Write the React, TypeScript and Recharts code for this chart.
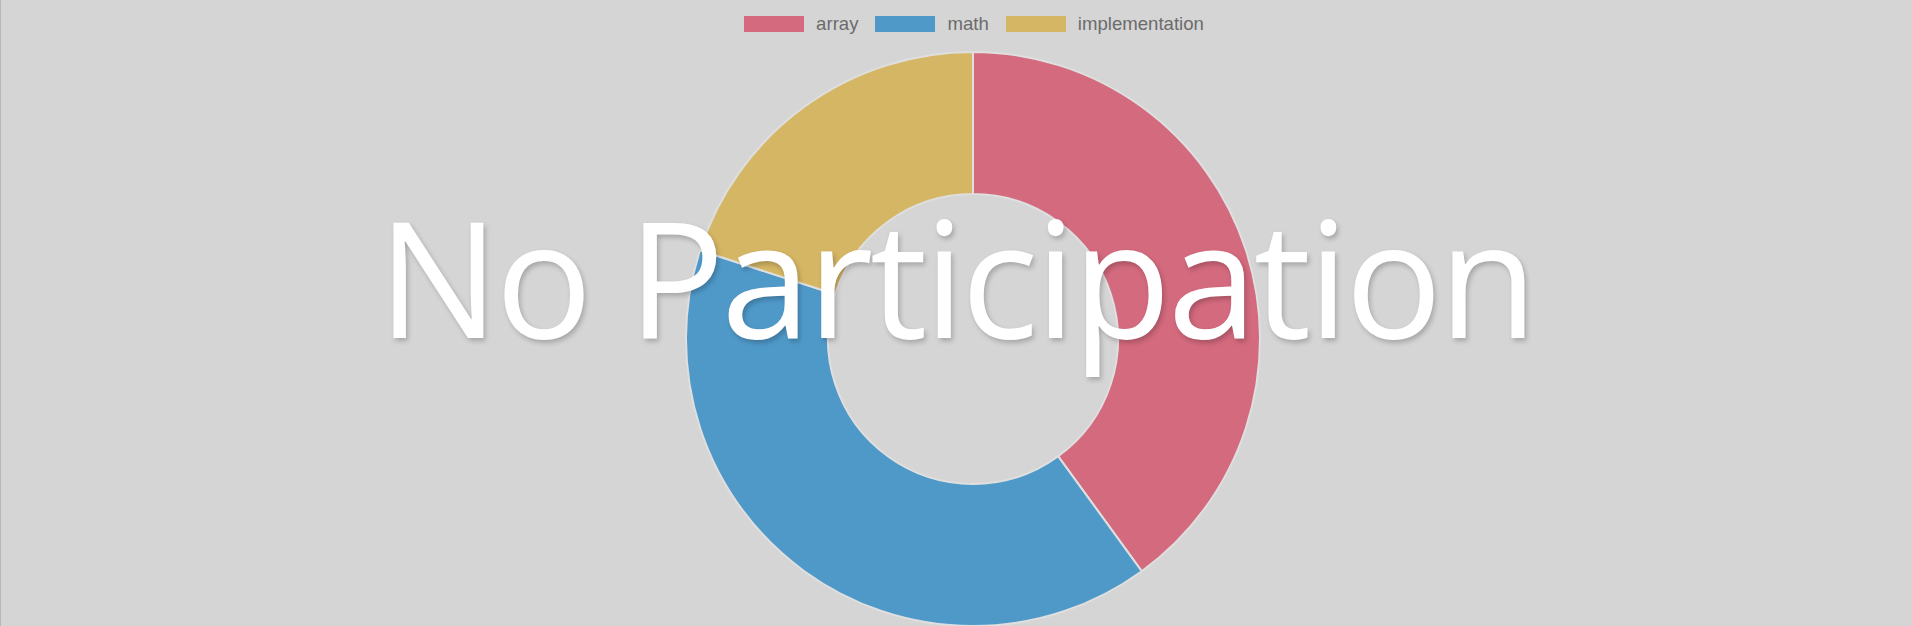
import { PieChart, Pie, Cell, Legend } from 'recharts'

const categories = ['array', 'math', 'implementation']
const counts = [2, 2, 1]
const colors = ['#d46a7e', '#4f99c9', '#d5b664']
const overlayText = 'No Participation'

const data = categories.map((name, i) => ({ name, value: counts[i] }))

// keep the order of the data, recharts sorts the pie legend otherwise
const LegendRow = () => (
  <div style={{
    display: 'flex', justifyContent: 'center', alignItems: 'center',
    fontFamily: '"Liberation Sans", Arial, sans-serif', fontSize: '18.6px', color: '#6b6b6b',
    paddingLeft: '34px',
  }}>
    {categories.map((c, i) => (
      <div key={c} style={{ display: 'flex', alignItems: 'center', marginLeft: i === 0 ? 0 : '17px' }}>
        <span style={{ display: 'inline-block', width: '60px', height: '16px', backgroundColor: colors[i], marginRight: '12px' }} />
        <span>{c}</span>
      </div>
    ))}
  </div>
)

export default function App() {
  return (
    <div style={{
      position: 'fixed', top: 0, left: 0, width: '1912px', height: '626px',
      backgroundColor: '#d5d5d5', overflow: 'hidden', borderLeft: '1px solid #b8b8b8',
      boxSizing: 'border-box',
    }}>
      <PieChart width={1912} height={626} margin={{ top: 0, right: 0, bottom: 0, left: 0 }}>
        <Legend verticalAlign="top" align="center" content={<LegendRow />}
          wrapperStyle={{ top: 13, left: 0, width: 1912, height: 0 }} />
        <Pie data={data} dataKey="value" nameKey="name"
          cx={972} cy={339} outerRadius={287} innerRadius={145}
          startAngle={90} endAngle={-270}
          stroke="#dfdfdf" strokeWidth={2} isAnimationActive={false}>
          {data.map((d, i) => <Cell key={d.name} fill={colors[i]} />)}
        </Pie>
      </PieChart>
      <div style={{
        position: 'absolute', top: '195px', left: 0, width: '1912px', paddingRight: '2px',
        boxSizing: 'border-box', textAlign: 'center', whiteSpace: 'nowrap',
        fontFamily: '"Open Sans", sans-serif', fontSize: '161px', lineHeight: 1,
        letterSpacing: '-3.3px', color: '#ffffff',
        textShadow: '2px 3px 5px rgba(0,0,0,0.22)', pointerEvents: 'none',
      }}>
        {overlayText}
      </div>
    </div>
  )
}
